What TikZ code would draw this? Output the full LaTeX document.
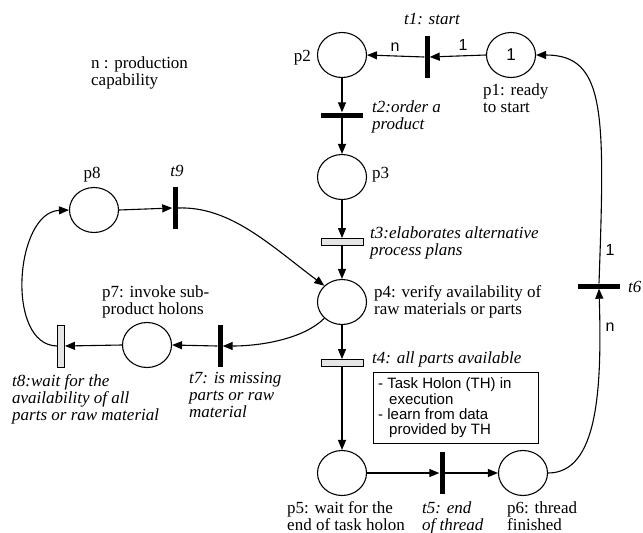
\documentclass[tikz,border=0pt]{standalone}
\usepackage{fontspec}
\setmainfont{Liberation Serif}
\setsansfont{Liberation Sans}
\newfontfamily\notefont{Liberation Sans}
\usetikzlibrary{shapes.geometric,arrows.meta}

\tikzset{
  place/.style={draw, ellipse, minimum width=49pt, minimum height=45pt, inner sep=0pt, line width=1.1pt},
  vbar/.style={fill=black, minimum width=5pt, minimum height=42pt, inner sep=0pt},
  hbar/.style={fill=black, minimum width=42pt, minimum height=5pt, inner sep=0pt},
  gvbar/.style={draw, fill=gray!20, line width=0.9pt, minimum width=7pt, minimum height=42pt, inner sep=0pt},
  ghbar/.style={draw, fill=gray!20, line width=0.9pt, minimum width=42pt, minimum height=7pt, inner sep=0pt},
  arc/.style={line width=1.1pt, -{Triangle[length=10pt,width=8pt]}},
  lbl/.style={font=\fontsize{17}{17}\selectfont, inner sep=0pt, align=left},
  tlbl/.style={font=\fontsize{17}{17}\selectfont\itshape, inner sep=0pt, align=left},
  wt/.style={font=\notefont\fontsize{16}{16}\selectfont, inner sep=0pt},
  notebox/.style={draw, line width=0.9pt, anchor=north west, minimum width=165pt,
    minimum height=71pt, inner sep=0pt},
  noteline/.style={font=\notefont\fontsize{15}{15}\selectfont, inner sep=0pt, anchor=base west}
}

\begin{document}
\begin{tikzpicture}[x=1pt, y=-1pt]
  \useasboundingbox (0,0) rectangle (643,533);

  % places
  \node[place, font=\notefont\fontsize{17}{17}\selectfont] (p1) at (511,55) {1};
  \node[place] (p2) at (342,55) {};
  \node[place] (p3) at (342,177) {};
  \node[place] (p4) at (342,302) {};
  \node[place] (p5) at (342,473) {};
  \node[place] (p6) at (523,473) {};
  \node[place] (p7) at (147,345) {};
  \node[place] (p8) at (94,210) {};

  % transitions
  \node[vbar]  (t1) at (427,57) {};
  \node[hbar]  (t2) at (342,115) {};
  \node[ghbar] (t3) at (342,242) {};
  \node[ghbar] (t4) at (342,363) {};
  \node[vbar]  (t5) at (442,473) {};
  \node[hbar]  (t6) at (599,286) {};
  \node[vbar]  (t7) at (220,346) {};
  \node[gvbar] (t8) at (61,346) {};
  \node[vbar]  (t9) at (175,208) {};

  % arcs
  \draw[arc] (p1.west) -- (t1.east);
  \draw[arc] (t1.west) -- (p2.east);
  \draw[arc] (p2.south) -- (t2.north);
  \draw[arc] (t2.south) -- (p3.north);
  \draw[arc] (p3.south) -- (t3.north);
  \draw[arc] (t3.south) -- (p4.north);
  \draw[arc] (p4.south) -- (t4.north);
  \draw[arc] (t4.south) -- (p5.north);
  \draw[arc] (p5.east) -- (t5.west);
  \draw[arc] (t5.east) -- (p6.west);
  \draw[arc] (p6.east) .. controls +(50,0) and +(3,100) .. (t6.south);
  \draw[arc] (t6.north) .. controls +(6,-170) and +(70,0) .. (p1.east);
  \draw[arc] (p8.east) -- (t9.west);
  \draw[arc] (t9.east) .. controls (230,206) and (270,245) .. (p4.north west);
  \draw[arc] (p4.south west) .. controls +(-20,20) and +(40,0) .. (t7.east);
  \draw[arc] (t7.west) -- (p7.east);
  \draw[arc] (p7.west) -- (t8.east);
  \draw[arc] (t8.west) .. controls (5,345) and (15,212) .. (p8.west);

  % arc weights
  \node[wt] (w1) at (463,45) {1};
  \node[wt] (w2) at (395,47) {n};
  \node[wt] (w3) at (610,250) {1};
  \node[wt] (w4) at (610,327) {n};

  % place labels
  \node[lbl, anchor=east] (lp2) at (311,58) {p2};
  \node[lbl, anchor=north west] (lp1) at (483,84) {p1: ready\\to start};
  \node[lbl, anchor=west] (lp3) at (372,175) {p3};
  \node[lbl, anchor=west] (lp4) at (374,302) {p4: verify availability of\\raw materials or parts};
  \node[lbl, anchor=north west] (lp5) at (287,501) {p5: wait for the\\end of task holon};
  \node[lbl, anchor=north west] (lp6) at (507,501) {p6: thread\\finished};
  \node[lbl, anchor=west] (lp7) at (102,302) {p7: invoke sub-\\product holons};
  \node[lbl] (lp8) at (92,175) {p8};

  % transition labels
  \node[tlbl] (lt1) at (432,19) {t1: start};
  \node[tlbl, anchor=west] (lt2) at (372,117) {t2:order a\\product};
  \node[tlbl, anchor=west] (lt3) at (370,243) {t3:elaborates alternative\\process plans};
  \node[tlbl, anchor=west] (lt4) at (372,359) {t4: all parts available};
  \node[tlbl, anchor=north west] (lt5) at (422,501) {t5: end\\of thread};
  \node[tlbl, anchor=west] (lt6) at (628,287) {t6};
  \node[tlbl, anchor=north west] (lt7) at (189,372) {t7: is missing\\parts or raw\\material};
  \node[tlbl, anchor=north west] (lt8) at (12,374) {t8:wait for the\\availability of all\\parts or raw material};
  \node[tlbl] (lt9) at (177,171) {t9};

  % legend
  \node[lbl, anchor=north west] (legend) at (91,57) {n : production\\capability};

  % note box and its lines
  \node[notebox] (note) at (373,372) {};
  \node[noteline] (n1) at (378,388) {- Task Holon (TH) in};
  \node[noteline] (n2) at (389,404) {execution};
  \node[noteline] (n3) at (378,419) {- learn from data};
  \node[noteline] (n4) at (389,434) {provided by TH};
\end{tikzpicture}
\end{document}
